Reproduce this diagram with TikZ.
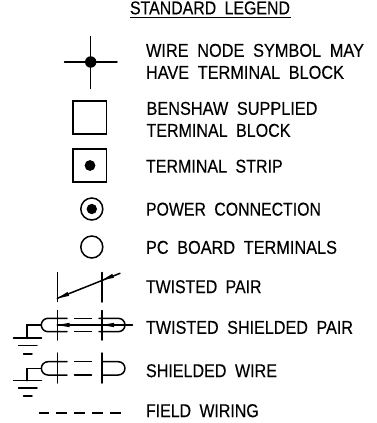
\documentclass[tikz,border=0pt]{standalone}
\usepackage{fontspec}
\setmainfont[WordSpace=1.9,FakeBold=0.3]{Liberation Sans}
\begin{document}
\begin{tikzpicture}[x=1pt,y=-1pt,line width=1.5pt,
  sym/.style={draw=black,line width=1.5pt,line cap=round},
  thick line/.style={draw=black,line width=1.5pt},
  lbl/.style={anchor=south west,inner sep=0pt,outer sep=0pt,text=black},
  ar/.style={fill=black,draw=none}]
\useasboundingbox (0,0) rectangle (376,423);
\newcommand{\lb}[5]{\node[lbl] (#1) at (#2,#3) {\resizebox{#4pt}{13pt}{#5}};}
% texts
\lb{t0}{130}{14.5}{160}{STANDARD LEGEND}
\draw[thick line,line width=1.2pt] (129.5,17.5) -- (291,17.5);
\lb{t1}{146}{57}{218}{WIRE NODE SYMBOL MAY}
\lb{t2}{146}{79}{198}{HAVE TERMINAL BLOCK}
\lb{t3}{146.5}{115}{171}{BENSHAW SUPPLIED}
\lb{t4}{146.5}{137}{144}{TERMINAL BLOCK}
\lb{t5}{146}{172.8}{136.7}{TERMINAL STRIP}
\lb{t6}{146}{215.8}{175}{POWER CONNECTION}
\lb{t7}{146}{254}{191}{PC BOARD TERMINALS}
\lb{t8}{146}{293.3}{115.5}{TWISTED PAIR}
\lb{t9}{146}{334}{207}{TWISTED SHIELDED PAIR}
\lb{t10}{146}{377.3}{131}{SHIELDED WIRE}
\lb{t11}{146}{417.3}{112.7}{FIELD WIRING}
% wire node
\draw[sym] (64.5,62) -- (117,62) (90.7,36.5) -- (90.7,88.5);
\fill (90.7,62) circle (5.7);
% squares
\draw[thick line] (73,101) rectangle (106.5,134);
\draw[thick line] (73,149) rectangle (106.5,182);
\fill (90,165.5) circle (5.4);
% circles
\draw[thick line] (91.8,209) circle (11);
\fill (91.8,209) circle (5.2);
\draw[thick line] (91.8,247) circle (11);
% twisted pair
\draw[sym] (57.3,272.5) -- (57.3,301.5) (102,272.5) -- (102,302);
\draw[sym] (57.3,298.3) -- (120,273.3);
\fill[ar] (57.3,298.3) -- (69.2,295.9) -- (67.6,291.9) -- cycle;
\fill[ar] (102,280.2) -- (113.9,277.8) -- (112.3,273.8) -- cycle;
% twisted shielded pair
\draw[sym] (57.3,310.5) -- (57.3,340) (102,310.5) -- (102,340);
\draw[sym] (67,318.3) -- (48,318.3) arc[start angle=270,end angle=90,radius=6.7] -- (67,331.7);
\draw[sym] (74.5,318.3) -- (91.5,318.3) (74.5,331.7) -- (91.5,331.7);
\draw[sym] (99,318.3) -- (118.3,318.3) arc[start angle=270,end angle=450,radius=6.7] -- (99,331.7);
\draw[sym] (57.3,325) -- (132.5,325);
\fill[ar] (57.3,325) -- (69.5,322.8) -- (69.5,327.2) -- cycle;
\fill[ar] (102,325) -- (114.2,322.8) -- (114.2,327.2) -- cycle;
\draw[sym] (41.3,325) -- (27,325) -- (27,338);
\draw[sym] (13.5,338) -- (41.5,338) (18.5,345.5) -- (37,345.5) (23.5,354) -- (32,354);
% shielded wire
\draw[sym] (57.3,353) -- (57.3,383) (102,353) -- (102,383);
\draw[sym] (67,361.7) -- (48,361.7) arc[start angle=270,end angle=90,radius=6.65] -- (67,375);
\draw[sym] (74.5,361.7) -- (91.5,361.7) (74.5,375) -- (91.5,375);
\draw[sym] (102,361.7) -- (118.3,361.7) arc[start angle=270,end angle=450,radius=6.65] -- (102,375);
\draw[sym] (41.3,368.3) -- (27,368.3) -- (27,380.7);
\draw[sym] (13.5,380.7) -- (41.5,380.7) (18.5,388) -- (37,388) (23.5,396) -- (32,396);
% field wiring
\draw[thick line,dash pattern=on 10.4pt off 7.5pt] (38.5,413) -- (120.5,413);
\end{tikzpicture}
\end{document}
